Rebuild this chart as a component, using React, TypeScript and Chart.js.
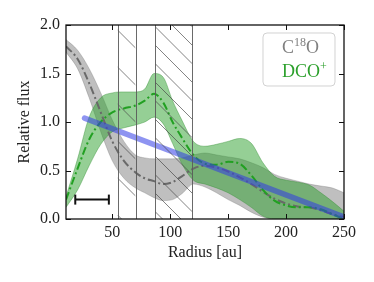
import React, { useEffect, useRef } from "react";
import { Chart, registerables } from "chart.js";
Chart.register(...registerables);

// ---- data ----
const radius = [10, 20, 30, 40, 50, 60, 70, 78, 86, 94, 102, 110, 120, 130, 140, 150, 160, 170, 180, 190, 200, 210, 220, 230, 240, 250];
const c18oLow = [1.72, 1.55, 1.25, 0.9, 0.6, 0.42, 0.32, 0.27, 0.22, 0.19, 0.2, 0.26, 0.36, 0.33, 0.27, 0.2, 0.14, 0.07, 0.02, 0, 0, 0, 0, 0, 0, 0];
const c18oHigh = [1.85, 1.74, 1.55, 1.3, 1.02, 0.8, 0.66, 0.63, 0.62, 0.62, 0.62, 0.63, 0.66, 0.68, 0.66, 0.64, 0.62, 0.58, 0.53, 0.46, 0.42, 0.39, 0.36, 0.34, 0.32, 0.27];
const c18oMean = [1.78, 1.65, 1.4, 1.1, 0.8, 0.6, 0.48, 0.42, 0.39, 0.36, 0.38, 0.44, 0.52, 0.55, 0.53, 0.49, 0.43, 0.36, 0.28, 0.21, 0.16, 0.13, 0.12, 0.09, 0.05, 0.02];
const dcoLow = [0.12, 0.3, 0.55, 0.77, 0.9, 0.94, 0.97, 1.0, 1.05, 0.98, 0.78, 0.57, 0.4, 0.36, 0.32, 0.27, 0.2, 0.12, 0.03, 0, 0, 0, 0, 0, 0, 0];
const dcoHigh = [0.23, 0.62, 1.05, 1.25, 1.3, 1.31, 1.31, 1.34, 1.5, 1.46, 1.22, 1.02, 0.8, 0.75, 0.77, 0.8, 0.83, 0.78, 0.58, 0.44, 0.4, 0.38, 0.35, 0.27, 0.18, 0.08];
const dcoMean = [0.2, 0.52, 0.82, 1.0, 1.1, 1.14, 1.17, 1.22, 1.29, 1.2, 1.0, 0.84, 0.66, 0.57, 0.56, 0.59, 0.57, 0.45, 0.3, 0.19, 0.14, 0.12, 0.12, 0.1, 0.05, 0.0];
const fitRadius = [26, 250];
const fitValue = [1.04, 0.02];
const beamRadius = [18, 47];
const beamValue = [0.2, 0.2];
const gapStart = [54.5, 87];
const gapEnd = [70, 119];
const xTicks = [50, 100, 150, 200, 250];
const yTicks = [0, 0.5, 1.0, 1.5, 2.0];
const legendLabels = [["C", "18", "O"], ["DCO", "+", ""]];

const FONT = "'Liberation Serif', 'DejaVu Serif', serif";
const GRAY = "rgba(128,128,128,0.5)";
const GREEN = "rgba(44,160,44,0.5)";

const pts = (xs: number[], ys: number[]) => xs.map((v, i) => ({ x: v, y: ys[i] }));

const overlay = {
  id: "overlay",
  afterDatasetsDraw(chart: any) {
    const { ctx, chartArea: a, scales } = chart;
    const x = scales.x, y = scales.y;
    ctx.save();
    const spacing = [37, 18.5];
    const phase = [5, 1.7];
    for (let i = 0; i < gapStart.length; i++) {
      const x0 = x.getPixelForValue(gapStart[i]);
      const x1 = x.getPixelForValue(gapEnd[i]);
      const w = x1 - x0;
      const h = a.bottom - a.top;
      ctx.save();
      ctx.beginPath();
      ctx.rect(x0, a.top, w, h);
      ctx.clip();
      ctx.strokeStyle = "rgba(70,70,70,0.75)";
      ctx.lineWidth = 0.9;
      ctx.beginPath();
      const sp = spacing[i];
      let c = phase[i];
      while (c > -w) c -= sp;
      for (; c < h; c += sp) {
        ctx.moveTo(x0, a.top + c);
        ctx.lineTo(x1, a.top + c + w);
      }
      ctx.stroke();
      ctx.restore();
      ctx.strokeStyle = "rgba(90,90,90,0.9)";
      ctx.lineWidth = 1;
      ctx.beginPath();
      ctx.moveTo(Math.round(x0) + 0.5, a.top);
      ctx.lineTo(Math.round(x0) + 0.5, a.bottom);
      ctx.moveTo(Math.round(x1) + 0.5, a.top);
      ctx.lineTo(Math.round(x1) + 0.5, a.bottom);
      ctx.stroke();
    }
    ctx.strokeStyle = "#111";
    ctx.lineWidth = 1;
    ctx.beginPath();
    const L = 5;
    xTicks.forEach((v) => {
      const px = Math.round(x.getPixelForValue(v)) + 0.5;
      ctx.moveTo(px, a.bottom);
      ctx.lineTo(px, a.bottom - L);
      ctx.moveTo(px, a.top);
      ctx.lineTo(px, a.top + L);
    });
    yTicks.forEach((v) => {
      const py = Math.round(y.getPixelForValue(v)) + 0.5;
      ctx.moveTo(a.left, py);
      ctx.lineTo(a.left + L, py);
      ctx.moveTo(a.right, py);
      ctx.lineTo(a.right - L, py);
    });
    ctx.stroke();
    ctx.lineWidth = 1.3;
    ctx.strokeStyle = "#111";
    ctx.strokeRect(a.left, a.top, a.right - a.left, a.bottom - a.top);
    ctx.restore();
  },
  afterDraw(chart: any) {
    const { ctx, chartArea: a } = chart;
    ctx.save();
    const bx = a.right - 81, by = a.top + 8, bw = 72, bh = 53;
    ctx.beginPath();
    (ctx as any).roundRect(bx, by, bw, bh, 4);
    ctx.fillStyle = "rgba(255,255,255,0.8)";
    ctx.fill();
    ctx.strokeStyle = "rgba(205,205,205,0.9)";
    ctx.lineWidth = 1;
    ctx.stroke();
    const colors = ["rgb(128,128,128)", "rgb(44,160,44)"];
    const baselines = [by + 20, by + 44];
    ctx.textBaseline = "alphabetic";
    ctx.textAlign = "left";
    legendLabels.forEach((parts, i) => {
      let cx = bx + 19;
      ctx.fillStyle = colors[i];
      ctx.font = `18px ${FONT}`;
      ctx.fillText(parts[0], cx, baselines[i]);
      cx += ctx.measureText(parts[0]).width;
      ctx.font = `12px ${FONT}`;
      ctx.fillText(parts[1], cx, baselines[i] - 7);
      cx += ctx.measureText(parts[1]).width;
      ctx.font = `18px ${FONT}`;
      ctx.fillText(parts[2], cx, baselines[i]);
    });
    ctx.restore();
  },
};

export default function App() {
  const ref = useRef<HTMLCanvasElement | null>(null);
  useEffect(() => {
    document.body.style.margin = "0";
    const canvas = ref.current!;
    const tickFont = { family: FONT, size: 16 };
    const chart = new Chart(canvas, {
      type: "line",
      data: {
        datasets: [
          { data: pts(radius, c18oLow), borderColor: "rgba(110,110,110,0.4)", borderWidth: 0.8, pointRadius: 0, fill: false, order: 10, cubicInterpolationMode: "monotone" },
          { data: pts(radius, c18oHigh), borderColor: "rgba(110,110,110,0.4)", borderWidth: 0.8, pointRadius: 0, backgroundColor: GRAY, fill: "-1", order: 10, cubicInterpolationMode: "monotone" },
          { data: pts(radius, dcoLow), borderColor: "rgba(44,140,44,0.5)", borderWidth: 0.8, pointRadius: 0, fill: false, order: 9, cubicInterpolationMode: "monotone" },
          { data: pts(radius, dcoHigh), borderColor: "rgba(44,140,44,0.5)", borderWidth: 0.8, pointRadius: 0, backgroundColor: GREEN, fill: "-1", order: 9, cubicInterpolationMode: "monotone" },
          { data: pts(radius, c18oMean), borderColor: "rgb(105,105,105)", borderWidth: 2, borderDash: [8, 3, 2, 3], pointRadius: 0, fill: false, order: 8, cubicInterpolationMode: "monotone" },
          { data: pts(radius, dcoMean), borderColor: "rgb(34,160,34)", borderWidth: 2, borderDash: [8, 3, 2, 3], pointRadius: 0, fill: false, order: 7, cubicInterpolationMode: "monotone" },
          { data: pts(fitRadius, fitValue), borderColor: "rgba(50,60,230,0.55)", borderWidth: 5.5, borderCapStyle: "round", pointRadius: 0, fill: false, order: 6 },
          { data: pts(beamRadius, beamValue), borderColor: "#111", borderWidth: 2, pointStyle: "line", rotation: 90, pointRadius: 5, pointBorderWidth: 2, pointBorderColor: "#111", fill: false, order: 5 },
        ],
      },
      options: {
        animation: false,
        responsive: false,
        devicePixelRatio: 1,
        layout: { padding: { left: 0, top: 25, right: 30, bottom: 0 } },
        plugins: { legend: { display: false }, tooltip: { enabled: false } },
        scales: {
          x: {
            type: "linear",
            min: 10,
            max: 250,
            grid: { display: false, drawTicks: false },
            border: { display: false },
            afterBuildTicks: (s: any) => { s.ticks = xTicks.map((v) => ({ value: v })); },
            afterFit: (s: any) => { s.height = 63; },
            ticks: { font: tickFont, color: "#222", padding: 4, maxRotation: 0, callback: (v: any) => String(v) },
            title: { display: true, text: "Radius [au]", font: tickFont, color: "#222", padding: { top: 0, bottom: 20 } },
          },
          y: {
            type: "linear",
            min: 0,
            max: 2,
            grid: { display: false, drawTicks: false },
            border: { display: false },
            afterBuildTicks: (s: any) => { s.ticks = yTicks.map((v) => ({ value: v })); },
            afterFit: (s: any) => { s.width = 66; },
            ticks: { font: tickFont, color: "#222", padding: 6, callback: (v: any) => Number(v).toFixed(1) },
            title: { display: true, text: "Relative flux", font: tickFont, color: "#222", padding: { top: 15, bottom: 0 } },
          },
        },
      },
      plugins: [overlay],
    } as any);
    return () => chart.destroy();
  }, []);
  return <canvas ref={ref} width={374} height={282} style={{ display: "block" }} />;
}
